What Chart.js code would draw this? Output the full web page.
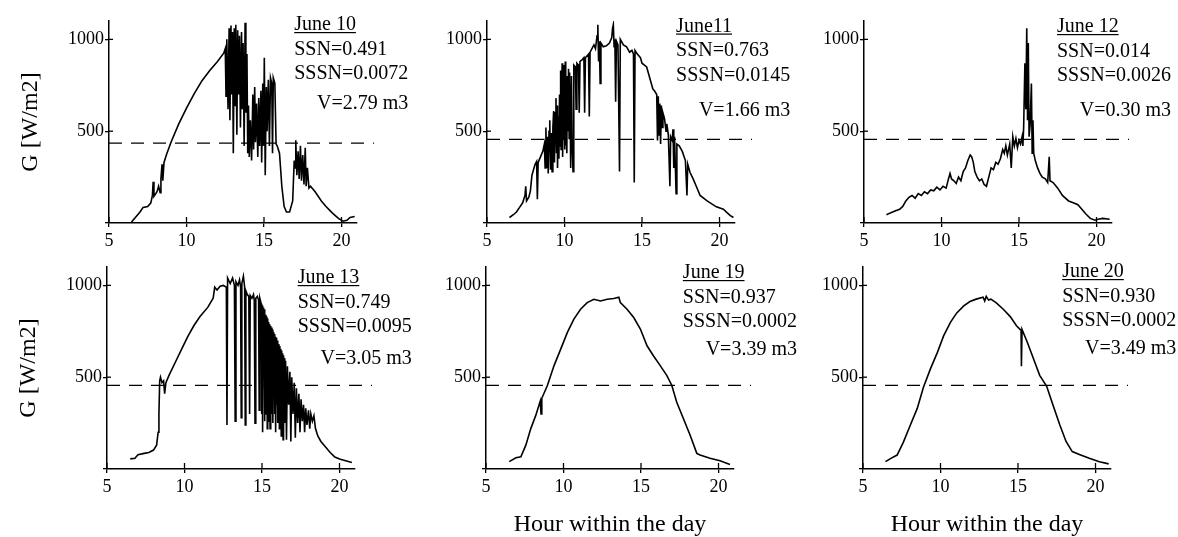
<!DOCTYPE html>
<html>
<head>
<meta charset="utf-8">
<script src="https://cdn.jsdelivr.net/npm/chart.js@4.4.1/dist/chart.umd.min.js"></script>
<style>
  html, body { margin: 0; padding: 0; background: #fff; width: 1178px; height: 537px; overflow: hidden; }
  canvas { position: absolute; }
</style>
</head>
<body>
<script>
// Textos de cada dia
const dias = ["June 10", "June11", "June 12", "June 13", "June 19", "June 20"];
const ssn = ["0.491", "0.763", "0.014", "0.749", "0.937", "0.930"];
const sssn = ["0.0072", "0.0145", "0.0026", "0.0095", "0.0002", "0.0002"];
const volume = ["2.79", "1.66", "0.30", "3.05", "3.39", "3.49"];
const limiar = [435, 455, 455, 455, 455, 455]; // linha tracejada
const fimTracejado = 22.1;

const xTicks = [5, 10, 15, 20];
const yTicks = [0, 500, 1000];

// Radiação G [W/m2] (hora, valor)
const june10Hora = [6.45, 6.7, 7.0, 7.2, 7.5, 7.7, 7.8, 7.85, 7.9, 8.1, 8.2, 8.3, 8.35, 8.42, 8.47, 8.55, 8.7, 9.0, 9.5, 10.0, 10.5, 11.0, 11.5, 12.0, 12.4, 12.5, 12.55, 12.6, 12.68, 12.75, 12.8, 12.87, 12.92, 12.97, 13.02, 13.08, 13.13, 13.18, 13.25, 13.3, 13.36, 13.42, 13.48, 13.55, 13.6, 13.65, 13.72, 13.78, 13.83, 13.9, 13.95, 14.0, 14.05, 14.12, 14.2, 14.28, 14.33, 14.4, 14.45, 14.52, 14.6, 14.66, 14.72, 14.8, 14.85, 14.92, 14.97, 15.02, 15.08, 15.15, 15.2, 15.28, 15.35, 15.42, 15.5, 15.55, 15.6, 15.7, 15.78, 15.85, 16.0, 16.15, 16.3, 16.45, 16.65, 16.85, 16.95, 17.0, 17.05, 17.12, 17.2, 17.27, 17.35, 17.42, 17.5, 17.58, 17.66, 17.72, 17.8, 17.9, 18.0, 18.3, 18.7, 19.0, 19.4, 19.8, 20.1, 20.35, 20.55, 20.85];
const june10G = [5, 30, 60, 85, 90, 110, 150, 225, 145, 170, 200, 165, 240, 320, 230, 330, 370, 440, 540, 625, 705, 775, 830, 880, 925, 950, 690, 1000, 620, 1060, 560, 1075, 700, 1040, 380, 1060, 640, 1080, 480, 1050, 700, 1020, 520, 1040, 620, 980, 420, 1090, 600, 920, 380, 640, 360, 560, 340, 700, 400, 740, 440, 650, 360, 680, 420, 720, 330, 760, 420, 900, 260, 740, 500, 780, 420, 790, 760, 380, 790, 760, 430, 420, 380, 200, 90, 60, 60, 120, 340, 300, 450, 260, 390, 240, 420, 230, 370, 210, 410, 200, 300, 190, 200, 170, 120, 90, 55, 25, 10, 15, 30, 35];

const june11Hora = [6.45, 6.7, 6.9, 7.1, 7.3, 7.45, 7.5, 7.55, 7.7, 7.8, 7.9, 8.0, 8.1, 8.2, 8.25, 8.3, 8.45, 8.6, 8.7, 8.75, 8.8, 8.85, 8.9, 8.95, 9.0, 9.05, 9.1, 9.15, 9.2, 9.25, 9.3, 9.35, 9.4, 9.45, 9.48, 9.52, 9.55, 9.6, 9.64, 9.68, 9.72, 9.75, 9.78, 9.82, 9.85, 9.88, 9.92, 9.95, 9.98, 10.02, 10.05, 10.08, 10.12, 10.15, 10.18, 10.22, 10.26, 10.3, 10.33, 10.37, 10.4, 10.45, 10.5, 10.55, 10.6, 10.7, 10.75, 10.8, 10.9, 10.95, 11.0, 11.15, 11.25, 11.3, 11.35, 11.55, 11.6, 11.65, 11.9, 12.0, 12.1, 12.15, 12.2, 12.25, 12.3, 12.35, 12.5, 12.7, 12.9, 13.05, 13.1, 13.15, 13.2, 13.25, 13.3, 13.35, 13.45, 13.55, 13.6, 13.8, 14.0, 14.2, 14.35, 14.45, 14.5, 14.55, 14.7, 14.9, 15.0, 15.3, 15.5, 15.7, 15.8, 15.95, 16.0, 16.05, 16.1, 16.15, 16.2, 16.25, 16.3, 16.35, 16.45, 16.55, 16.6, 16.7, 16.8, 16.85, 16.95, 17.0, 17.05, 17.1, 17.2, 17.25, 17.4, 17.6, 17.8, 17.9, 17.95, 18.1, 18.3, 18.5, 18.75, 19.2, 19.8, 20.25, 20.5, 20.7, 20.9];
const june11G = [30, 45, 60, 85, 110, 150, 200, 120, 140, 175, 260, 290, 320, 335, 130, 330, 360, 390, 430, 300, 520, 300, 470, 270, 500, 560, 290, 490, 280, 520, 610, 330, 600, 680, 380, 640, 300, 580, 350, 700, 420, 830, 400, 760, 870, 360, 820, 450, 860, 400, 880, 420, 800, 380, 780, 500, 840, 460, 820, 560, 300, 800, 420, 280, 860, 850, 620, 870, 860, 600, 880, 890, 900, 600, 900, 920, 580, 930, 970, 950, 1020, 1080, 880, 990, 760, 980, 960, 965, 980, 1010, 1060, 1080, 960, 1000, 660, 990, 970, 280, 1000, 970, 960, 930, 940, 920, 220, 940, 920, 900, 870, 850, 790, 730, 720, 700, 450, 690, 480, 650, 430, 640, 520, 600, 570, 500, 540, 480, 200, 470, 450, 510, 300, 470, 160, 430, 420, 390, 340, 150, 320, 275, 240, 200, 150, 120, 88, 75, 55, 40, 30];

const june12Hora = [6.45, 6.7, 7.0, 7.3, 7.5, 7.7, 7.9, 8.1, 8.3, 8.5, 8.7, 8.9, 9.1, 9.3, 9.5, 9.7, 9.9, 10.1, 10.3, 10.45, 10.55, 10.65, 10.8, 10.95, 11.1, 11.25, 11.4, 11.55, 11.7, 11.85, 11.95, 12.05, 12.15, 12.3, 12.45, 12.6, 12.75, 12.9, 13.05, 13.2, 13.35, 13.5, 13.65, 13.8, 13.95, 14.05, 14.15, 14.25, 14.4, 14.5, 14.6, 14.7, 14.8, 14.9, 15.0, 15.1, 15.2, 15.25, 15.3, 15.38, 15.44, 15.5, 15.55, 15.6, 15.65, 15.72, 15.8, 15.85, 15.9, 15.95, 16.05, 16.2, 16.35, 16.5, 16.7, 16.85, 16.95, 17.0, 17.2, 17.5, 17.8, 18.2, 18.5, 18.8, 19.0, 19.3, 19.6, 19.9, 20.1, 20.4, 20.85];
const june12G = [45, 55, 65, 75, 90, 120, 140, 150, 135, 160, 150, 170, 160, 180, 175, 195, 180, 200, 190, 240, 270, 240, 230, 215, 250, 230, 280, 300, 340, 370, 360, 330, 280, 250, 230, 240, 210, 200, 250, 300, 290, 330, 320, 350, 400, 380, 420, 370, 430, 300, 470, 420, 460, 410, 450, 430, 470, 420, 520, 870, 620, 1060, 560, 980, 470, 540, 760, 380, 560, 380, 340, 300, 270, 250, 240, 220, 360, 230, 220, 190, 150, 120, 110, 100, 80, 50, 25, 15, 20, 25, 20];

const june13Hora = [6.5, 6.8, 7.0, 7.4, 7.7, 8.0, 8.2, 8.3, 8.35, 8.4, 8.45, 8.55, 8.65, 8.72, 8.8, 9.0, 9.4, 9.8, 10.2, 10.6, 11.0, 11.5, 11.85, 11.95, 12.1, 12.3, 12.5, 12.7, 12.74, 12.78, 12.95, 13.1, 13.22, 13.27, 13.32, 13.45, 13.55, 13.62, 13.66, 13.7, 13.8, 13.88, 13.92, 13.96, 14.05, 14.15, 14.2, 14.24, 14.35, 14.45, 14.5, 14.55, 14.6, 14.7, 14.78, 14.82, 14.86, 14.95, 14.98, 15.01, 15.04, 15.07, 15.1, 15.13, 15.16, 15.19, 15.22, 15.25, 15.28, 15.31, 15.34, 15.37, 15.4, 15.43, 15.46, 15.49, 15.52, 15.55, 15.58, 15.61, 15.64, 15.67, 15.7, 15.73, 15.76, 15.79, 15.82, 15.85, 15.88, 15.91, 15.94, 15.97, 16.0, 16.03, 16.06, 16.09, 16.12, 16.15, 16.18, 16.21, 16.24, 16.27, 16.3, 16.33, 16.36, 16.39, 16.42, 16.45, 16.48, 16.52, 16.58, 16.64, 16.72, 16.8, 16.86, 16.92, 17.0, 17.08, 17.15, 17.22, 17.3, 17.38, 17.45, 17.52, 17.6, 17.68, 17.75, 17.82, 17.9, 18.0, 18.08, 18.15, 18.25, 18.35, 18.45, 18.6, 18.8, 19.1, 19.4, 19.7, 20.0, 20.4, 20.8];
const june13G = [55, 58, 78, 85, 90, 103, 130, 200, 300, 480, 500, 470, 480, 410, 470, 510, 580, 650, 720, 780, 830, 880, 930, 990, 975, 995, 1000, 990, 240, 1040, 1010, 1040, 1000, 260, 1020, 1000, 1030, 990, 280, 1010, 1050, 990, 240, 970, 950, 940, 300, 945, 930, 950, 920, 250, 930, 940, 920, 320, 930, 900, 300, 890, 200, 880, 500, 870, 260, 850, 400, 840, 300, 830, 220, 820, 450, 800, 260, 790, 220, 780, 380, 770, 300, 760, 250, 745, 420, 735, 300, 720, 200, 715, 350, 700, 250, 690, 350, 680, 220, 670, 300, 655, 180, 645, 330, 630, 160, 620, 420, 605, 250, 590, 160, 560, 350, 530, 150, 500, 300, 470, 170, 440, 250, 410, 200, 380, 260, 350, 200, 330, 240, 320, 220, 300, 260, 290, 220, 180, 150, 120, 90, 65, 55, 45, 35];

const june19Hora = [6.5, 6.93, 7.25, 7.57, 7.89, 8.21, 8.5, 8.55, 8.6, 8.96, 9.39, 9.82, 10.25, 10.67, 11.1, 11.53, 11.96, 12.39, 12.82, 13.24, 13.57, 13.67, 14.1, 14.53, 14.96, 15.39, 15.8, 16.24, 16.67, 16.99, 17.3, 17.74, 18.17, 18.6, 18.81, 19.45, 20.1, 20.74];
const june19G = [40, 61, 67, 130, 220, 292, 370, 300, 385, 455, 563, 653, 744, 816, 870, 906, 924, 915, 924, 928, 935, 906, 870, 825, 762, 671, 617, 563, 509, 455, 365, 274, 184, 85, 76, 58, 45, 25];

const june20Hora = [6.45, 6.8, 7.2, 7.6, 8.05, 8.5, 8.9, 9.35, 9.8, 10.2, 10.65, 11.05, 11.5, 11.9, 12.3, 12.75, 12.85, 12.95, 13.1, 13.25, 13.6, 14.05, 14.5, 14.9, 15.2, 15.22, 15.26, 15.6, 16.0, 16.4, 16.85, 17.25, 17.7, 18.1, 18.5, 19.0, 19.6, 20.25, 20.85];
const june20G = [40, 58, 76, 145, 238, 330, 445, 545, 635, 725, 800, 850, 888, 912, 925, 935, 915, 940, 920, 925, 905, 870, 830, 780, 755, 560, 760, 690, 600, 510, 450, 350, 240, 150, 95, 78, 58, 40, 28];

const horas = [june10Hora, june11Hora, june12Hora, june13Hora, june19Hora, june20Hora];
const valores = [june10G, june11G, june12G, june13G, june19G, june20G];

// Posição de cada painel na página
const areaEsq = [109, 487, 864, 107, 486, 863];
const areaTopo = [21, 21, 21, 267, 267, 267];
const areaL = 248, areaA = 202;
const padEsq = 100, padTopo = 21, padDir = 70, padBaixo = 70;

// Onde ficam as anotações (hora de início, deslocamento da 1a linha e da linha V)
const notaX = [16.95, 17.2, 17.45, 17.3, 17.7, 17.85];
const notaTopo = [9, 10.5, 11, 16, 11, 10];
const notaV = [88, 95, 95, 97, 88, 87];

const fonte = "Liberation Serif";

const notas = {
    id: "notas",
    afterDraw(chart, args, opts) {
        const i = opts.indice;
        const { ctx, chartArea } = chart;
        const x = chart.scales.x, y = chart.scales.y;
        ctx.save();
        // parte interna dos ticks
        ctx.strokeStyle = "#000";
        ctx.lineWidth = 1.3;
        x.ticks.forEach(t => {
            const px = x.getPixelForValue(t.value);
            ctx.beginPath();
            ctx.moveTo(px, chartArea.bottom);
            ctx.lineTo(px, chartArea.bottom - 6);
            ctx.stroke();
        });
        y.ticks.forEach(t => {
            if (t.value === 0) return;
            const py = y.getPixelForValue(t.value);
            ctx.beginPath();
            ctx.moveTo(chartArea.left, py);
            ctx.lineTo(chartArea.left + 4, py);
            ctx.stroke();
        });

        ctx.fillStyle = "#000";
        ctx.font = "20px '" + fonte + "'";
        ctx.textBaseline = "alphabetic";
        ctx.textAlign = "left";
        const x0 = x.getPixelForValue(notaX[i]);
        let yb = chartArea.top + notaTopo[i];
        ctx.fillText(dias[i], x0, yb);
        ctx.fillRect(x0, yb + 2, ctx.measureText(dias[i]).width, 1.2);
        yb += 24.5;
        ctx.fillText("SSN=" + ssn[i], x0, yb);
        yb += 24.5;
        const linhaS = "SSSN=" + sssn[i];
        ctx.fillText(linhaS, x0, yb);
        const direita = x0 + ctx.measureText(linhaS).width;
        ctx.textAlign = "right";
        ctx.fillText("V=" + volume[i] + " m3", direita, chartArea.top + notaV[i]);
        ctx.restore();
    }
};

function criarPainel(i) {
    const canvas = document.createElement("canvas");
    canvas.width = padEsq + areaL + padDir;
    canvas.height = padTopo + areaA + padBaixo;
    canvas.style.left = (areaEsq[i] - padEsq) + "px";
    canvas.style.top = (areaTopo[i] - padTopo) + "px";
    document.body.appendChild(canvas);

    const pontos = horas[i].map((h, k) => ({ x: h, y: valores[i][k] }));

    new Chart(canvas, {
        type: "line",
        data: {
            datasets: [{
                data: pontos,
                borderColor: "#000",
                borderWidth: 1.6,
                pointRadius: 0,
                tension: 0,
                fill: false
            }, {
                data: [{ x: 5, y: limiar[i] }, { x: fimTracejado, y: limiar[i] }],
                borderColor: "#000",
                borderWidth: 1.3,
                borderDash: [13, 9],
                pointRadius: 0,
                clip: false
            }]
        },
        options: {
            responsive: false,
            animation: false,
            devicePixelRatio: 1,
            layout: { padding: { top: padTopo, right: padDir, left: 0, bottom: 0 } },
            plugins: {
                legend: { display: false },
                tooltip: { enabled: false },
                notas: { indice: i }
            },
            scales: {
                x: {
                    type: "linear",
                    min: 5,
                    max: 21,
                    afterFit: s => { s.height = padBaixo; },
                    afterBuildTicks: s => { s.ticks = xTicks.map(v => ({ value: v })); },
                    grid: { drawOnChartArea: false, tickLength: 4, color: "#000", lineWidth: 1.3 },
                    border: { color: "#000", width: 1.5 },
                    ticks: { color: "#000", font: { family: fonte, size: 18 }, padding: 3, maxRotation: 0, autoSkip: false },
                    title: {
                        display: i === 4 || i === 5,
                        text: "Hour within the day",
                        color: "#000",
                        font: { family: fonte, size: 24 },
                        padding: 0
                    }
                },
                y: {
                    min: 0,
                    max: 1100,
                    afterFit: s => { s.width = padEsq; },
                    afterBuildTicks: s => { s.ticks = yTicks.map(v => ({ value: v })); },
                    grid: { drawOnChartArea: false, tickLength: 4, color: "#000", lineWidth: 1.3 },
                    border: { color: "#000", width: 1.5 },
                    ticks: {
                        color: "#000",
                        font: { family: fonte, size: 18 },
                        padding: 1,
                        callback: v => (v === 0 ? "" : v)
                    },
                    title: {
                        display: i === 0 || i === 3,
                        text: "G [W/m2]",
                        color: "#000",
                        font: { family: fonte, size: 24 },
                        padding: { top: 7 }
                    }
                }
            }
        },
        plugins: [notas]
    });
}

for (let i = 0; i < 6; i++) {
    criarPainel(i);
}
</script>
</body>
</html>
